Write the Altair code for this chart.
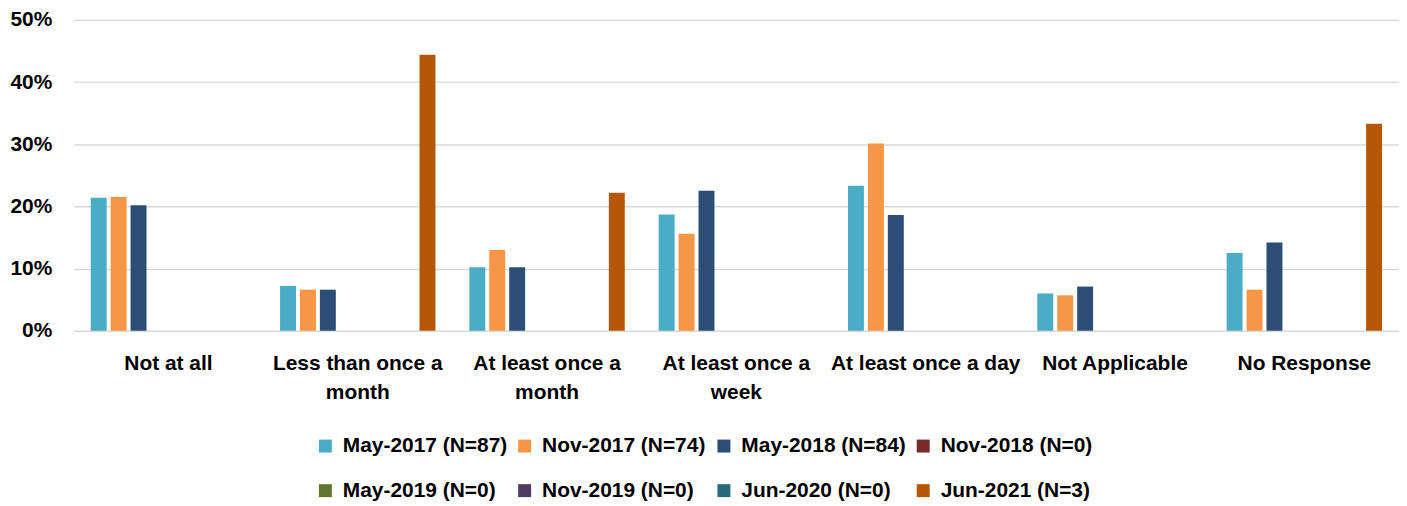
import altair as alt
import pandas as pd

categories = ["Not at all", "Less than once a month", "At least once a month",
              "At least once a week", "At least once a day", "Not Applicable", "No Response"]
category_label_lines = [["Not at all"], ["Less than once a", "month"], ["At least once a", "month"],
                        ["At least once a", "week"], ["At least once a day"], ["Not Applicable"],
                        ["No Response"]]

series = ["May-2017 (N=87)", "Nov-2017 (N=74)", "May-2018 (N=84)", "Nov-2018 (N=0)",
          "May-2019 (N=0)", "Nov-2019 (N=0)", "Jun-2020 (N=0)", "Jun-2021 (N=3)"]
colors = ["#4BACC6", "#F79646", "#2C4D75", "#772C2A", "#5F7530", "#4D3B62", "#276A7C", "#B65708"]

may_2017 = [21.4, 7.2, 10.2, 18.7, 23.3, 6.0, 12.5]
nov_2017 = [21.5, 6.6, 13.0, 15.6, 30.1, 5.7, 6.6]
may_2018 = [20.2, 6.6, 10.2, 22.5, 18.6, 7.1, 14.2]
nov_2018 = [0, 0, 0, 0, 0, 0, 0]
may_2019 = [0, 0, 0, 0, 0, 0, 0]
nov_2019 = [0, 0, 0, 0, 0, 0, 0]
jun_2020 = [0, 0, 0, 0, 0, 0, 0]
jun_2021 = [0, 44.4, 22.2, 0, 0, 0, 33.3]

values = [may_2017, nov_2017, may_2018, nov_2018, may_2019, nov_2019, jun_2020, jun_2021]

rows = []
for s, vals in zip(series, values):
    for c, v in zip(categories, vals):
        rows.append({"category": c, "series": s, "value": v / 100.0})
df = pd.DataFrame(rows)

# label expression for wrapped x labels
expr = "datum.value"
for c, lines in reversed(list(zip(categories, category_label_lines))):
    arr = "[" + ", ".join("'" + l + "'" for l in lines) + "]"
    expr = f"datum.value == '{c}' ? {arr} : ({expr})"

FONT = "Liberation Sans"

chart = alt.Chart(df).mark_bar().encode(
    x=alt.X("category:N", sort=categories, title=None,
            scale=alt.Scale(domain=categories, paddingInner=0.158, paddingOuter=0.079),
            axis=alt.Axis(labelAngle=0, ticks=False, domain=False, labelExpr=expr,
                          labelFont=FONT, labelFontWeight="bold", labelFontSize=21,
                          labelColor="#000000", labelPadding=22, labelLineHeight=29,
                          labelBaseline="top", labelLimit=400)),
    xOffset=alt.XOffset("series:N", sort=series,
                        scale=alt.Scale(domain=series, paddingInner=0.2, paddingOuter=0.1)),
    y=alt.Y("value:Q", title=None,
            scale=alt.Scale(domain=[0, 0.5], nice=False),
            axis=alt.Axis(format=".0%", values=[0, 0.1, 0.2, 0.3, 0.4, 0.5], ticks=False,
                          domain=False, gridColor="#d9d9d9", gridWidth=1.5,
                          labelFont=FONT, labelFontWeight="bold", labelFontSize=21,
                          labelColor="#000000", labelPadding=22)),
    color=alt.Color("series:N", sort=series, title=None,
                    scale=alt.Scale(domain=series, range=colors),
                    legend=alt.Legend(orient="none", legendX=242, legendY=417,
                                      direction="horizontal", columns=4,
                                      symbolType="square", symbolSize=169,
                                      symbolStrokeWidth=0, labelOffset=7,
                                      columnPadding=6, rowPadding=23, gridAlign="all",
                                      labelFont=FONT, labelFontWeight="bold",
                                      labelFontSize=21, labelColor="#000000",
                                      labelLimit=400, padding=0)),
).properties(
    width=1330, height=312,
    autosize=alt.AutoSizeParams(type="none"),
    padding={"left": 66, "top": 11, "right": 0, "bottom": 172},
).configure_view(stroke=None)

chart.save("out.html", embed_options={"renderer": "svg", "actions": False})
